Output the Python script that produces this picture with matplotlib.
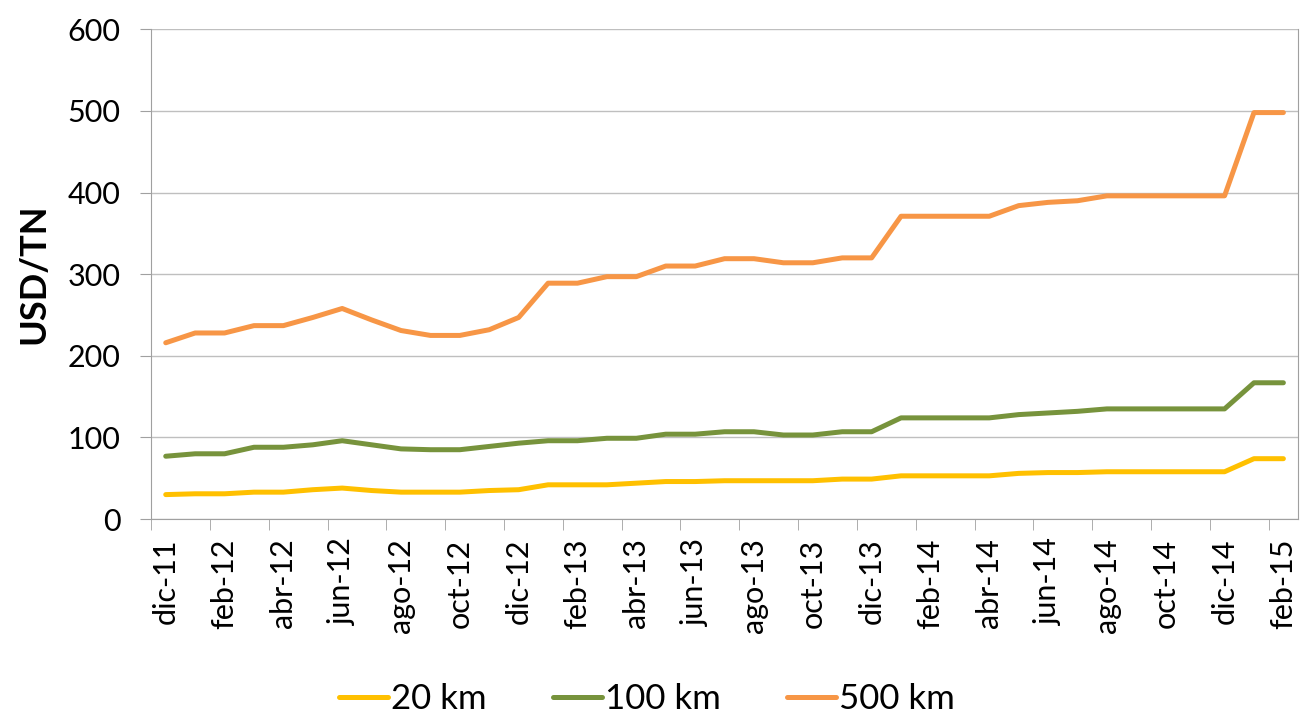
import numpy as np
import matplotlib.pyplot as plt

# Datos mensuales dic-11 .. feb-15
meses = ['dic-11', 'ene-12', 'feb-12', 'mar-12', 'abr-12', 'may-12', 'jun-12', 'jul-12',
         'ago-12', 'sep-12', 'oct-12', 'nov-12', 'dic-12', 'ene-13', 'feb-13', 'mar-13',
         'abr-13', 'may-13', 'jun-13', 'jul-13', 'ago-13', 'sep-13', 'oct-13', 'nov-13',
         'dic-13', 'ene-14', 'feb-14', 'mar-14', 'abr-14', 'may-14', 'jun-14', 'jul-14',
         'ago-14', 'sep-14', 'oct-14', 'nov-14', 'dic-14', 'ene-15', 'feb-15']

km20 = [30, 31, 31, 33, 33, 36, 38, 35, 33, 33, 33, 35, 36, 42, 42, 42, 44, 46, 46, 47,
        47, 47, 47, 49, 49, 53, 53, 53, 53, 56, 57, 57, 58, 58, 58, 58, 58, 74, 74]
km100 = [77, 80, 80, 88, 88, 91, 96, 91, 86, 85, 85, 89, 93, 96, 96, 99, 99, 104, 104, 107,
         107, 103, 103, 107, 107, 124, 124, 124, 124, 128, 130, 132, 135, 135, 135, 135, 135, 167, 167]
km500 = [216, 228, 228, 237, 237, 247, 258, 244, 231, 225, 225, 232, 247, 289, 289, 297, 297,
         310, 310, 319, 319, 314, 314, 320, 320, 371, 371, 371, 371, 384, 388, 390, 396, 396,
         396, 396, 396, 498, 498]

plt.rcParams['font.family'] = ['Lato', 'DejaVu Sans']

fig = plt.figure(figsize=(13.02, 7.15), dpi=100)
ax = fig.add_axes([0.116, 0.274, 0.881, 0.685])

x = np.arange(len(meses))
ax.plot(x, km20, color='#FFC000', lw=3.6, label='20 km', solid_capstyle='round')
ax.plot(x, km100, color='#77933C', lw=3.6, label='100 km', solid_capstyle='round')
ax.plot(x, km500, color='#F79646', lw=3.6, label='500 km', solid_capstyle='round')

ax.set_xlim(-0.5, len(meses) - 0.5)
ax.set_ylim(0, 600)
ax.set_yticks(range(0, 601, 100))
ax.grid(axis='y', color='#BFBFBF', lw=1)
ax.set_axisbelow(True)

ax.set_xticks(x[::2])
ax.set_xticklabels(meses[::2], rotation=90)
ax.tick_params(axis='x', length=0, pad=14, labelsize=22)
ax.set_xticks(np.arange(-0.5, len(meses), 2), minor=True)
ax.tick_params(axis='x', which='minor', length=8, color='#A0A0A0')
ax.tick_params(axis='y', length=8, color='#A0A0A0', labelsize=22, pad=14)

for s in ['left', 'bottom', 'right']:
    ax.spines[s].set_color('#A0A0A0')
ax.spines['top'].set_visible(False)

ax.set_ylabel('USD/TN', fontsize=26, fontweight='bold', labelpad=12)

fig.legend(loc='center', ncol=3, frameon=False, fontsize=25,
           bbox_to_anchor=(0.497, 0.022), handlelength=1.4, columnspacing=1.9,
           handletextpad=0.1)

fig.savefig('out.png', dpi=100)
